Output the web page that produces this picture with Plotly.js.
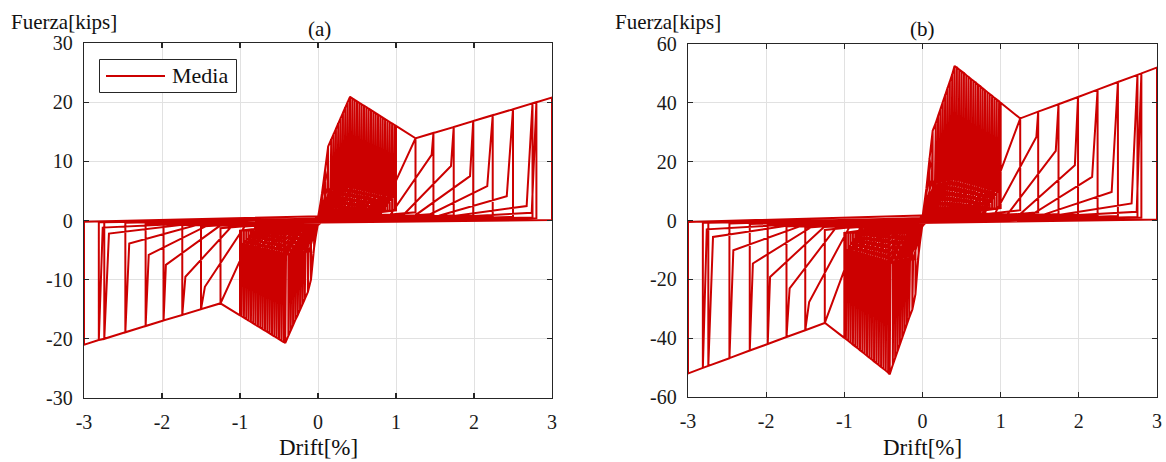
<!DOCTYPE html>
<html>
<head>
<meta charset="utf-8">
<script src="https://cdn.plot.ly/plotly-3.0.1.min.js"></script>
<style>html,body{margin:0;padding:0;background:#fff;}#chart{width:1166px;height:462px;}</style>
</head>
<body>
<div id="chart"></div>
<script>
// ---------- data ----------
// drift (%) of each cycle: peak, kink before previous peak, start of reload (shared by both panels)
const posD  = [0.05,0.09,0.13, 0.17,0.20,0.23,0.26,0.29,0.32,0.35,0.38,0.41, 0.44,0.47,0.50,0.53,0.56,0.59,0.62,0.65,0.68,0.71,0.74,0.77,0.80,0.83,0.86,0.89,0.92,0.95,0.98, 1.00, 1.25,1.48,1.74,1.99,2.24,2.50,2.75,2.80,3.00];
const posKx = [0.03,0.06,0.10, 0.12,0.16,0.19,0.22,0.25,0.28,0.31,0.34,0.37, 0.40,0.43,0.46,0.49,0.52,0.55,0.58,0.61,0.64,0.67,0.70,0.73,0.76,0.79,0.82,0.85,0.88,0.91,0.94, 0.97, 0.99,1.25,1.457,1.705,1.949,2.17,2.42,2.675,2.74];
const posSx = [0.00,0.01,0.02, 0.03,0.04,0.05,0.07,0.09,0.11,0.13,0.15,0.17, 0.20,0.23,0.26,0.29,0.32,0.35,0.38,0.41,0.44,0.47,0.50,0.53,0.56,0.59,0.62,0.65,0.68,0.71,0.74, 0.77, 0.78,0.80,0.93,1.09,1.25,1.40,1.55,1.72,1.76];
const negD  = [-0.05,-0.09,-0.13, -0.17,-0.20,-0.23,-0.26,-0.29,-0.32,-0.35,-0.38,-0.42, -0.44,-0.47,-0.50,-0.53,-0.56,-0.59,-0.62,-0.65,-0.68,-0.71,-0.74,-0.77,-0.80,-0.83,-0.86,-0.89,-0.92,-0.95,-0.98, -1.00, -1.25,-1.50,-1.74,-1.98,-2.21,-2.47,-2.74,-2.81,-3.00];
const negKx = [-0.03,-0.06,-0.08, -0.12,-0.16,-0.19,-0.22,-0.25,-0.28,-0.31,-0.34,-0.37, -0.41,-0.43,-0.46,-0.49,-0.52,-0.55,-0.58,-0.61,-0.64,-0.67,-0.70,-0.73,-0.76,-0.79,-0.82,-0.85,-0.88,-0.91,-0.94, -0.97, -0.99,-1.25,-1.45,-1.70,-1.95,-2.17,-2.42,-2.68,-2.76];
const negSx = [0.00,-0.01,-0.02, -0.03,-0.04,-0.05,-0.07,-0.09,-0.11,-0.13,-0.15,-0.17, -0.20,-0.23,-0.26,-0.29,-0.32,-0.35,-0.38,-0.41,-0.44,-0.47,-0.50,-0.53,-0.56,-0.59,-0.62,-0.65,-0.68,-0.71,-0.74, -0.77, -0.78,-0.80,-0.94,-1.10,-1.26,-1.41,-1.57,-1.74,-1.79];
const finalX = 1.0;   // last reload after the final -3 % unloading

// panel (a) forces [kips]
const aPosF  = [4.5,8.5,12.5, 13.7,14.6,15.5,16.4,17.3,18.2,19.1,20.0,20.9, 20.65,20.4,20.15,19.9,19.65,19.4,19.15,18.9,18.65,18.4,18.15,17.9,17.65,17.4,17.15,16.9,16.65,16.4,16.15, 16.0, 13.9,14.8,15.8,16.8,17.8,18.8,19.8,20.0,20.8];
const aPosKy = [2.8,5.0,7.5, 5.5,5.5,5.6,5.6,5.7,5.7,5.8,5.8,5.9, 5.9,5.8,5.8,5.7,5.6,5.5,5.4,5.3,5.2,5.1,5.0,4.9,4.8,4.7,4.6,4.5,4.4,4.3,4.2, 4.1, 9.7,13.9,11.1,9.2,7.5,5.8,4.1,2.45,1.3];
const aPosSy = [0.5,0.9,1.1, 1.2,1.2,1.3,1.3,1.3,1.3,1.3,1.3,1.3, 1.3,1.3,1.3,1.3,1.2,1.2,1.2,1.2,1.2,1.2,1.2,1.2,1.2,1.1,1.1,1.1,1.1,1.1,1.1, 1.0, 1.0,1.0,1.0,0.9,0.9,0.8,0.8,0.7,0.6];
const aPosU  = [1.2,1.4,1.5, 1.6,1.7,1.7,1.8,1.8,1.8,1.9,1.9,1.9, 1.9,1.9,1.9,1.9,1.9,1.9,1.9,1.9,1.9,1.9,1.8,1.8,1.8,1.8,1.8,1.7,1.7,1.7,1.7, 1.7, 1.4,1.1,0.9,0.8,0.7,0.6,0.5,0.4,0.1];
const aNegF  = [-4.6,-10.0,-12.1, -13.3,-14.2,-15.1,-16.0,-16.8,-17.7,-18.6,-19.5,-20.7, -20.54,-20.3,-20.05,-19.8,-19.57,-19.33,-19.09,-18.84,-18.6,-18.36,-18.12,-17.88,-17.63,-17.39,-17.15,-16.91,-16.66,-16.42,-16.18, -16.02, -14.0,-15.0,-15.96,-16.9,-17.84,-18.9,-20.0,-20.2,-21.0];
const aNegKy = [-2.8,-5.5,-8.0, -5.5,-5.5,-5.6,-5.6,-5.7,-5.7,-5.8,-5.8,-5.9, -5.9,-5.8,-5.8,-5.7,-5.6,-5.5,-5.4,-5.3,-5.2,-5.1,-5.0,-4.9,-4.8,-4.7,-4.6,-4.5,-4.4,-4.3,-4.2, -4.1, -9.6,-14.0,-11.2,-9.5,-7.5,-5.8,-3.9,-2.2,-1.2];
const aNegSy = [-0.5,-0.9,-1.1, -1.2,-1.2,-1.3,-1.3,-1.3,-1.3,-1.3,-1.3,-1.3, -1.3,-1.3,-1.3,-1.3,-1.2,-1.2,-1.2,-1.2,-1.2,-1.2,-1.2,-1.2,-1.2,-1.1,-1.1,-1.1,-1.1,-1.1,-1.1, -1.0, -1.0,-1.0,-1.0,-0.9,-0.9,-0.8,-0.8,-0.7,-0.6];
const aNegU  = [-1.2,-1.4,-1.5, -1.6,-1.7,-1.7,-1.8,-1.8,-1.8,-1.9,-1.9,-1.9, -1.9,-1.9,-1.9,-1.9,-1.9,-1.9,-1.9,-1.9,-1.9,-1.9,-1.8,-1.8,-1.8,-1.8,-1.8,-1.7,-1.7,-1.7,-1.7, -1.7, -1.3,-1.0,-0.8,-0.6,-0.5,-0.4,-0.3,-0.3,-0.2];
const aFinalY = 1.0;

// panel (b) forces [kips]
const bPosF  = [11.0,21.0,30.5, 33.2,35.6,37.9,40.3,42.6,45.0,47.3,49.7,52.5, 52.0,51.3,50.7,50.1,49.4,48.8,48.1,47.5,46.9,46.2,45.6,44.9,44.3,43.6,43.0,42.4,41.7,41.1,40.5, 40.0, 34.7,37.0,39.5,42.0,44.5,47.1,49.5,50.0,52.0];
const bPosKy = [7.0,12.5,19.0, 13.8,13.8,14.0,14.0,14.3,14.3,14.5,14.5,14.8, 14.8,14.5,14.5,14.3,14.0,13.8,13.5,13.3,13.0,12.8,12.5,12.3,12.0,11.8,11.5,11.3,11.0,10.8,10.5, 10.3, 24.0,34.7,28.4,23.7,18.8,14.8,9.7,5.8,3.0];
const bPosSy = [1.2,2.2,2.8, 3.0,3.0,3.2,3.2,3.2,3.2,3.2,3.2,3.2, 3.2,3.2,3.2,3.2,3.0,3.0,3.0,3.0,3.0,3.0,3.0,3.0,3.0,2.8,2.8,2.8,2.8,2.8,2.8, 2.5, 2.5,2.5,2.5,2.2,2.2,2.0,2.0,1.8,1.5];
const bPosU  = [3.0,3.5,3.8, 4.0,4.2,4.2,4.5,4.5,4.5,4.7,4.7,4.7, 4.7,4.7,4.7,4.7,4.7,4.7,4.7,4.7,4.7,4.7,4.5,4.5,4.5,4.5,4.5,4.2,4.2,4.2,4.2, 4.2, 3.5,2.8,2.2,2.0,1.8,1.5,1.2,1.0,0.3];
const bNegF  = [-11.5,-25.0,-30.3, -33.0,-35.3,-37.6,-39.9,-42.2,-44.5,-46.8,-49.1,-52.3, -51.7,-51.0,-50.4,-49.8,-49.1,-48.5,-47.9,-47.2,-46.6,-46.0,-45.3,-44.7,-44.1,-43.4,-42.8,-42.2,-41.5,-40.9,-40.3, -39.9, -34.8,-37.3,-39.6,-42.0,-44.2,-46.8,-49.4,-50.1,-52.0];
const bNegKy = [-7.0,-13.5,-20.0, -13.8,-13.8,-14.0,-14.0,-14.3,-14.3,-14.5,-14.5,-14.8, -14.8,-14.5,-14.5,-14.3,-14.0,-13.8,-13.5,-13.3,-13.0,-12.8,-12.5,-12.3,-12.0,-11.8,-11.5,-11.3,-11.0,-10.8,-10.5, -10.3, -24.0,-34.8,-27.7,-23.1,-19.2,-14.6,-10.1,-5.6,-3.0];
const bNegSy = [-1.2,-2.2,-2.8, -3.0,-3.0,-3.2,-3.2,-3.2,-3.2,-3.2,-3.2,-3.2, -3.2,-3.2,-3.2,-3.2,-3.0,-3.0,-3.0,-3.0,-3.0,-3.0,-3.0,-3.0,-3.0,-2.8,-2.8,-2.8,-2.8,-2.8,-2.8, -2.5, -2.5,-2.5,-2.5,-2.2,-2.2,-2.0,-2.0,-1.8,-1.5];
const bNegU  = [-3.0,-3.5,-3.8, -4.0,-4.2,-4.2,-4.5,-4.5,-4.5,-4.7,-4.7,-4.7, -4.7,-4.7,-4.7,-4.7,-4.7,-4.7,-4.7,-4.7,-4.7,-4.7,-4.5,-4.5,-4.5,-4.5,-4.5,-4.2,-4.2,-4.2,-4.2, -4.2, -3.2,-2.5,-2.0,-1.5,-1.2,-1.0,-0.8,-0.8,-0.5];
const bFinalY = 2.5;

// tick labels
const xTickVals = [-3,-2,-1,0,1,2,3];
const xTickText = ["-3","-2","-1","0","1","2","3"];
const aTickVals = [-30,-20,-10,0,10,20,30];
const aTickText = ["-30","-20","-10","0","10","20","30"];
const bTickVals = [-60,-40,-20,0,20,40,60];
const bTickText = ["-60","-40","-20","0","20","40","60"];
const seriesName = "Media";

// ---------- build loop path from the cycle vertices ----------
function buildLoop(pF,pKy,pSy,pU,nF,nKy,nSy,nU,endY){
  const x=[0], y=[0];
  for(let i=0;i<posD.length;i++){
    x.push(posSx[i]); y.push(pSy[i]);
    x.push(posKx[i]); y.push(pKy[i]);
    if(i>0){ x.push(posD[i-1]); y.push(pF[i-1]); }
    x.push(posD[i]); y.push(pF[i]);
    x.push(posD[i]); y.push(pU[i]);
    x.push(negSx[i]); y.push(nSy[i]);
    x.push(negKx[i]); y.push(nKy[i]);
    if(i>0){ x.push(negD[i-1]); y.push(nF[i-1]); }
    x.push(negD[i]); y.push(nF[i]);
    x.push(negD[i]); y.push(nU[i]);
  }
  x.push(finalX); y.push(endY);
  return {x,y};
}
const loopA = buildLoop(aPosF,aPosKy,aPosSy,aPosU,aNegF,aNegKy,aNegSy,aNegU,aFinalY);
const loopB = buildLoop(bPosF,bPosKy,bPosSy,bPosU,bNegF,bNegKy,bNegSy,bNegU,bFinalY);

const RED = 'rgb(204,0,0)';
const FONT = '"Liberation Serif", "DejaVu Serif", serif';
const INK = '#262626';

const traces = [
  {type:'scatter', mode:'lines', x:loopA.x, y:loopA.y, xaxis:'x', yaxis:'y', name:seriesName,
   line:{color:RED, width:2}, showlegend:false, hoverinfo:'skip'},
  {type:'scatter', mode:'lines', x:loopB.x, y:loopB.y, xaxis:'x2', yaxis:'y2', name:seriesName,
   line:{color:RED, width:2}, showlegend:false, hoverinfo:'skip'}
];

const W=1166, H=462;
const px = v => v/W, py = v => 1 - v/H;

function axisBase(){
  return {showline:true, mirror:'ticks', linecolor:INK, linewidth:1.3,
    ticks:'inside', ticklen:5, tickwidth:1.3, tickcolor:INK,
    showgrid:true, gridcolor:'#e1e1e1', gridwidth:1, zeroline:false,
    tickfont:{family:FONT, size:20, color:'#1a1a1a'}, ticklabelstandoff:6,
    fixedrange:true};
}
const xa = Object.assign(axisBase(), {domain:[px(84), px(552)], range:[-3,3], tickmode:'array', tickvals:xTickVals, ticktext:xTickText, anchor:'y'});
const ya = Object.assign(axisBase(), {domain:[py(398), py(43)], range:[-30,30], tickmode:'array', tickvals:aTickVals, ticktext:aTickText, anchor:'x'});
const xb = Object.assign(axisBase(), {domain:[px(688), px(1157)], range:[-3,3], tickmode:'array', tickvals:xTickVals, ticktext:xTickText, anchor:'y2'});
const yb = Object.assign(axisBase(), {domain:[py(397), py(44)], range:[-60,60], tickmode:'array', tickvals:bTickVals, ticktext:bTickText, anchor:'x2'});

function ann(text, x, y, xanchor, size){
  return {text, x:px(x), y:py(y), xref:'paper', yref:'paper', xanchor, yanchor:'middle',
          showarrow:false, font:{family:FONT, size, color:'#111'}};
}

const layout = {
  width:W, height:H, margin:{l:0,r:0,t:0,b:0},
  paper_bgcolor:'#fff', plot_bgcolor:'#fff', showlegend:false,
  font:{family:FONT},
  xaxis:xa, yaxis:ya, xaxis2:xb, yaxis2:yb,
  annotations:[
    ann('Fuerza[kips]', 9, 22, 'left', 21),
    ann('(a)', 319, 29, 'center', 21),
    ann('Drift[%]', 318, 447, 'center', 23),
    ann('Fuerza[kips]', 613, 22, 'left', 21),
    ann('(b)', 922, 29, 'center', 21),
    ann('Drift[%]', 922, 447, 'center', 23),
    ann(seriesName, 170, 75.5, 'left', 22)
  ],
  shapes:[
    {type:'rect', xref:'paper', yref:'paper', x0:px(99.5), x1:px(236.5), y0:py(92.5), y1:py(59.5),
     line:{color:INK, width:1}, fillcolor:'#fff', layer:'above'},
    {type:'line', xref:'paper', yref:'paper', x0:px(106), x1:px(165), y0:py(76), y1:py(76),
     line:{color:RED, width:2}, layer:'above'}
  ]
};

Plotly.newPlot('chart', traces, layout, {staticPlot:true, displayModeBar:false});
</script>
</body>
</html>
